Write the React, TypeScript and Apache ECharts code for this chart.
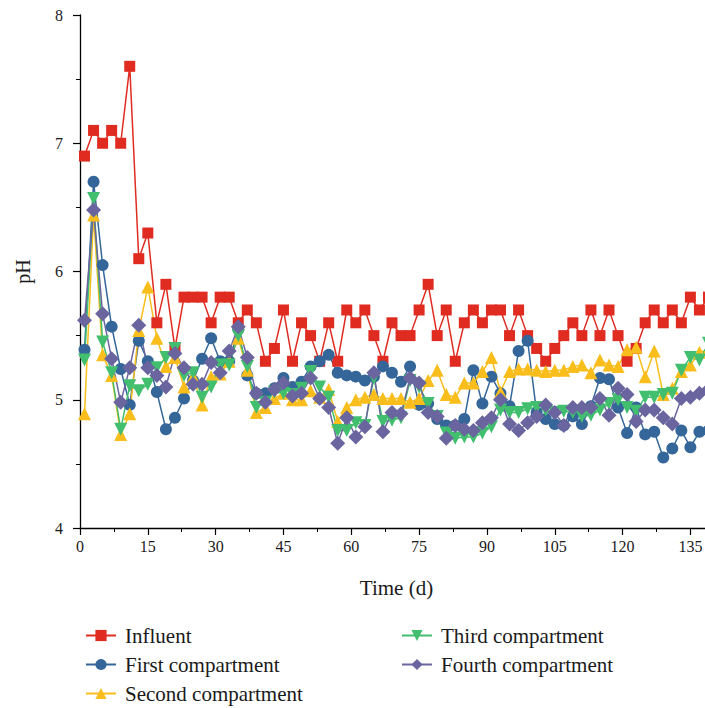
import React, { useEffect, useRef } from "react";
import * as echarts from "echarts";

// Sampling days (every second day)
const days = [
  1, 3, 5, 7, 9, 11, 13, 15, 17, 19, 21, 23, 25, 27, 29, 31, 33, 35, 37, 39,
  41, 43, 45, 47, 49, 51, 53, 55, 57, 59, 61, 63, 65, 67, 69, 71, 73, 75, 77, 79,
  81, 83, 85, 87, 89, 91, 93, 95, 97, 99, 101, 103, 105, 107, 109, 111, 113, 115, 117, 119,
  121, 123, 125, 127, 129, 131, 133, 135, 137, 139,
];

const influent = [
  6.9, 7.1, 7.0, 7.1, 7.0, 7.6, 6.1, 6.3, 5.6, 5.9, 5.4, 5.8, 5.8, 5.8, 5.6, 5.8, 5.8, 5.6, 5.7, 5.6,
  5.3, 5.4, 5.7, 5.3, 5.6, 5.5, 5.3, 5.6, 5.3, 5.7, 5.6, 5.7, 5.5, 5.3, 5.6, 5.5, 5.5, 5.7, 5.9, 5.5,
  5.7, 5.3, 5.6, 5.7, 5.6, 5.7, 5.7, 5.5, 5.7, 5.5, 5.4, 5.3, 5.4, 5.5, 5.6, 5.5, 5.7, 5.5, 5.7, 5.5,
  5.3, 5.4, 5.6, 5.7, 5.6, 5.7, 5.6, 5.8, 5.7, 5.8,
];

const first = [
  5.39, 6.70, 6.05, 5.57, 5.24, 4.96, 5.46, 5.30, 5.06, 4.77, 4.86, 5.01, 5.15, 5.32, 5.48, 5.30, 5.30, 5.55, 5.19, 5.05,
  5.05, 5.09, 5.17, 5.10, 5.14, 5.26, 5.30, 5.35, 5.21, 5.19, 5.18, 5.15, 5.18, 5.26, 5.21, 5.14, 5.26, 4.96, 4.97, 4.85,
  4.80, 4.80, 4.85, 5.23, 4.97, 5.18, 5.05, 4.95, 5.38, 5.46, 4.90, 4.85, 4.81, 4.80, 4.87, 4.81, 4.95, 5.17, 5.16, 4.94,
  4.74, 4.94, 4.73, 4.75, 4.55, 4.62, 4.76, 4.63, 4.75, 4.76,
];

const second = [
  4.89, 6.44, 5.35, 5.19, 4.73, 4.89, 5.54, 5.88, 5.48, 5.26, 5.33, 5.10, 5.18, 4.96, 5.18, 5.20, 5.30, 5.48, 5.23, 4.90,
  4.94, 5.01, 5.05, 5.00, 5.00, 5.07, 5.02, 5.08, 4.83, 4.94, 5.00, 5.02, 5.04, 5.01, 5.01, 5.01, 4.98, 5.01, 5.15, 5.23,
  5.04, 5.02, 5.13, 5.13, 5.22, 5.33, 5.06, 5.22, 5.24, 5.24, 5.23, 5.22, 5.23, 5.23, 5.26, 5.27, 5.21, 5.31, 5.27, 5.26,
  5.39, 5.41, 5.18, 5.38, 5.04, 5.09, 5.22, 5.27, 5.37, 5.39,
];

const third = [
  5.31, 6.57, 5.45, 5.21, 4.77, 5.11, 5.07, 5.12, 5.25, 5.33, 5.40, 5.19, 5.21, 5.02, 5.10, 5.27, 5.27, 5.50, 5.26, 4.94,
  4.98, 5.06, 5.05, 5.04, 5.09, 5.22, 5.10, 5.02, 4.76, 4.76, 4.82, 4.80, 5.17, 4.83, 4.84, 4.86, 5.15, 5.10, 4.97, 4.87,
  4.74, 4.70, 4.71, 4.71, 4.74, 4.79, 4.92, 4.90, 4.90, 4.93, 4.94, 4.92, 4.90, 4.91, 4.90, 4.87, 4.88, 4.92, 4.97, 5.00,
  4.94, 4.91, 5.02, 5.02, 5.04, 5.05, 5.23, 5.33, 5.31, 5.44,
];

const fourth = [
  5.62, 6.48, 5.67, 5.32, 4.98, 5.25, 5.58, 5.25, 5.19, 5.10, 5.36, 5.25, 5.12, 5.12, 5.29, 5.21, 5.38, 5.57, 5.33, 5.05,
  4.98, 5.08, 5.13, 5.03, 5.05, 5.17, 5.01, 4.94, 4.66, 4.86, 4.71, 4.79, 5.21, 4.75, 4.90, 4.89, 5.17, 5.13, 4.90, 4.87,
  4.70, 4.80, 4.77, 4.76, 4.82, 4.86, 5.00, 4.81, 4.76, 4.82, 4.87, 4.96, 4.90, 4.80, 4.94, 4.94, 4.94, 5.01, 4.88, 5.09,
  5.04, 4.83, 4.92, 4.92, 4.86, 4.81, 5.01, 5.02, 5.05, 5.08,
];

const xTicks = [0, 15, 30, 45, 60, 75, 90, 105, 120, 135];

const FONT = "'Liberation Serif', 'DejaVu Serif', serif";

type SeriesDef = {
  name: string;
  values: number[];
  color: string;
  symbol: string;
  size: number;
  rotate?: number;
  legendLeft: number;
  legendTop: number;
};

const seriesDefs: SeriesDef[] = [
  { name: "Influent", values: influent, color: "#E02B21", symbol: "rect", size: 11, legendLeft: 80, legendTop: 620 },
  { name: "First compartment", values: first, color: "#346699", symbol: "circle", size: 12, legendLeft: 80, legendTop: 649 },
  { name: "Second compartment", values: second, color: "#F9BE1C", symbol: "triangle", size: 13, legendLeft: 80, legendTop: 678 },
  { name: "Third compartment", values: third, color: "#41BF6E", symbol: "triangle", size: 13, rotate: 180, legendLeft: 396, legendTop: 620 },
  { name: "Fourth compartment", values: fourth, color: "#6A659F", symbol: "diamond", size: 15, legendLeft: 396, legendTop: 649 },
];

export default function App() {
  const ref = useRef<HTMLDivElement>(null);

  useEffect(() => {
    if (!ref.current) return;
    const chart = echarts.init(ref.current, null, { renderer: "svg" });

    const option: any = {
      animation: false,
      backgroundColor: "#ffffff",
      grid: { left: 80, right: 7, top: 15, bottom: 180, containLabel: false },
      legend: seriesDefs.map((s) => ({
        data: [s.name],
        left: s.legendLeft,
        top: s.legendTop,
        orient: "horizontal",
        itemWidth: 30,
        itemHeight: 14,
        selectedMode: false,
        textStyle: {
          fontFamily: FONT,
          fontSize: 21,
          color: "#1a1a1a",
          padding: [0, 0, 0, 4],
        },
      })),
      xAxis: {
        type: "value",
        min: 0,
        max: 140,
        interval: 15,
        name: "Time (d)",
        nameLocation: "middle",
        nameGap: 49,
        nameTextStyle: { fontFamily: FONT, fontSize: 21, color: "#1a1a1a" },
        axisLine: { show: true, lineStyle: { color: "#000", width: 1.3 } },
        axisTick: { show: true, length: 7, lineStyle: { color: "#000", width: 1.2 } },
        minorTick: { show: true, splitNumber: 2, length: 4, lineStyle: { color: "#000", width: 1 } },
        splitLine: { show: false },
        axisLabel: {
          fontFamily: FONT,
          fontSize: 16,
          color: "#1a1a1a",
          margin: 10,
          formatter: (v: number) => (xTicks.includes(v) ? String(v) : ""),
        },
      },
      yAxis: {
        type: "value",
        min: 4,
        max: 8,
        interval: 1,
        name: "pH",
        nameLocation: "middle",
        nameGap: 47,
        nameTextStyle: { fontFamily: FONT, fontSize: 20, color: "#1a1a1a" },
        axisLine: { show: true, lineStyle: { color: "#000", width: 1.3 } },
        axisTick: { show: true, length: 7, lineStyle: { color: "#000", width: 1.2 } },
        minorTick: { show: true, splitNumber: 2, length: 4, lineStyle: { color: "#000", width: 1 } },
        splitLine: { show: false },
        axisLabel: { fontFamily: FONT, fontSize: 16, color: "#1a1a1a", margin: 17 },
      },
      series: seriesDefs.map((s) => ({
        name: s.name,
        type: "line",
        data: days.map((d, i) => [d, s.values[i]]),
        symbol: s.symbol,
        symbolSize: s.size,
        symbolRotate: s.rotate ?? 0,
        showSymbol: true,
        showAllSymbol: true,
        clip: true,
        lineStyle: { color: s.color, width: 1.5 },
        itemStyle: { color: s.color, opacity: 1 },
        emphasis: { disabled: true },
      })),
    };

    chart.setOption(option);
    return () => chart.dispose();
  }, []);

  return (
    <div
      style={{
        position: "absolute",
        left: 0,
        top: 0,
        width: 705,
        height: 708,
        overflow: "hidden",
        background: "#fff",
      }}
    >
      <div ref={ref} style={{ width: 720, height: 708 }} />
    </div>
  );
}
